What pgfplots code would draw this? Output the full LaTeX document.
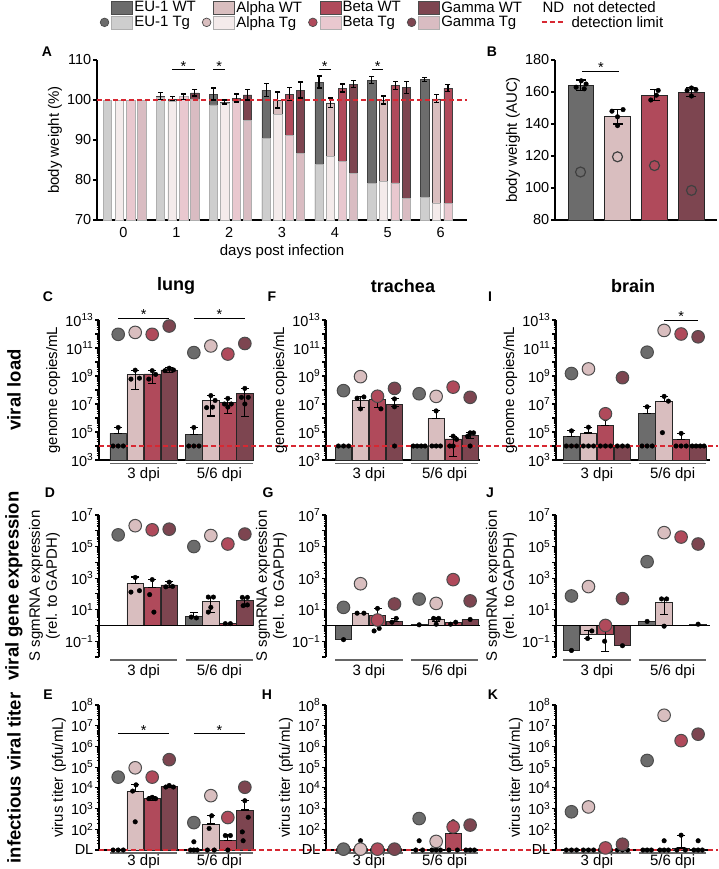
\documentclass[border=0pt]{standalone}
\usepackage{fontspec}
\setmainfont{Liberation Sans}
\usepackage{pgfplots}
\pgfplotsset{compat=1.18}

\definecolor{euwt}{RGB}{108,108,108}
\definecolor{eutg}{RGB}{206,206,206}
\definecolor{alwt}{RGB}{217,190,191}
\definecolor{altg}{RGB}{244,235,235}
\definecolor{bewt}{RGB}{176,74,91}
\definecolor{betg}{RGB}{233,200,207}
\definecolor{gawt}{RGB}{125,69,80}
\definecolor{gatg}{RGB}{217,188,194}
\definecolor{dlred}{RGB}{215,40,50}
\definecolor{tgedge}{RGB}{175,175,175}

\newcommand\fT{\fontsize{14.5}{16}\selectfont}
\newcommand\fA{\fontsize{15}{17}\selectfont}
\newcommand\fR{\fontsize{18.5}{20}\selectfont\bfseries}
\newcommand\fC{\fontsize{18}{20}\selectfont\bfseries}
\newcommand\fL{\fontsize{14}{16}\selectfont\bfseries}
\newcommand\dlsym{\textcolor{dlred}{\rule[0.3em]{5pt}{1.3pt}\hspace{3pt}\rule[0.3em]{5pt}{1.3pt}\hspace{3pt}\rule[0.3em]{5pt}{1.3pt}}}

\def\mtl{1e-9}
\foreach \e in {-2,...,13}{\foreach \m in {2,...,9}{\xdef\mtl{\mtl,\m e\e}}}

\pgfplotsset{
  pbase/.style={scale only axis, clip=false, axis x line*=bottom, axis y line*=left,
    axis line style={line width=1.3pt, black},
    tick style={black, line width=1.1pt},
    tick align=outside, major tick length=4pt, minor tick length=2.5pt,
    xtick style={draw=none},
    tick label style={font=\fT},
    yticklabel style={inner sep=1.5pt},
    label style={font=\fA},
    /pgf/number format/assume math mode=true},
  mybar/.style={ybar, bar width=0.97, bar shift=0pt, draw=black!85, line width=0.8pt, fill=#1},
  eb/.style={black, line width=1.1pt, mark=-, mark size=4pt, mark options={solid, line width=1.1pt}, unbounded coords=jump},
  dots/.style={only marks, mark=*, mark size=2.3pt, black},
  bigc/.style={only marks, mark=*, mark size=6.3pt, mark options={fill=#1, draw=black!70, line width=1pt}},
  dl/.style={dlred, line width=1.2pt, dash pattern=on 5pt off 3pt},
  grp/.style={black!60, line width=1.8pt},
  br/.style={black, line width=1pt},
  logpanel/.style={pbase, width=154pt, xtick={1.5,5.95}, xticklabels={3 dpi,5/6 dpi}, xticklabel style={font=\fA}, minor ytick/.expand once=\mtl},
  vlpanel/.style={logpanel, height=140pt, ymin=1e3, ymax=1e13,
     ytick={1e3,1e4,1e5,1e6,1e7,1e8,1e9,1e10,1e11,1e12,1e13},
     yticklabels={10\textsuperscript{3},,10\textsuperscript{5},,10\textsuperscript{7},,10\textsuperscript{9},,10\textsuperscript{11},,10\textsuperscript{13}},
     ylabel={genome copies/mL}},
  gepanel/.style={logpanel, height=142pt, ymin=1e-2, ymax=1e7, x axis line style={draw=none},
     ytick={1e-2,1e-1,1,1e1,1e2,1e3,1e4,1e5,1e6,1e7},
     yticklabels={,10\textsuperscript{−1},,10\textsuperscript{1},,10\textsuperscript{3},,10\textsuperscript{5},,10\textsuperscript{7}},
     ylabel={S sgmRNA expression\\(rel. to GAPDH)}, ylabel style={align=center}},
  vtpanel/.style={logpanel, height=145pt, ymin=1e1, ymax=1e8, xticklabel style={yshift=2.5pt},
     ytick={1e1,1e2,1e3,1e4,1e5,1e6,1e7,1e8},
     yticklabels={DL,10\textsuperscript{2},10\textsuperscript{3},10\textsuperscript{4},10\textsuperscript{5},10\textsuperscript{6},10\textsuperscript{7},10\textsuperscript{8}},
     ylabel={virus titer (pfu/mL)}},
}

\begin{document}
\begin{tikzpicture}
\path[use as bounding box] (0,0) rectangle (718pt,-869pt);

% ---------------- Panel A ----------------
\begin{axis}[pbase, at={(97pt,-220pt)}, anchor=south west, width=370pt, height=160pt,
  xmin=-0.5, xmax=6.5, ymin=70, ymax=110, clip=true,
  xtick={0,1,2,3,4,5,6}, ytick={70,80,90,100,110},
  xlabel={days post infection}, ylabel={body weight (\%)},
  legend columns=5, legend cell align=left,
  legend style={at={(0.005,1.375)}, anchor=north west, draw=none, fill=none, font=\fA,
    inner sep=0pt, row sep=0pt, nodes={inner sep=1.2pt},
    /tikz/every even column/.append style={column sep=4pt}},
]
\addlegendimage{legend image code/.code={\path[draw=none, fill=none] (-12pt,-7pt) rectangle (22pt,7pt); \draw[draw=black!70, fill=euwt, line width=0.6pt] (0.5pt,-6.5pt) rectangle (21.5pt,6.5pt);}}
\addlegendentry{EU-1 WT}
\addlegendimage{legend image code/.code={\path[draw=none, fill=none] (-12pt,-7pt) rectangle (22pt,7pt); \draw[draw=black!70, fill=alwt, line width=0.6pt] (0.5pt,-6.5pt) rectangle (21.5pt,6.5pt);}}
\addlegendentry{Alpha WT}
\addlegendimage{legend image code/.code={\path[draw=none, fill=none] (-12pt,-7pt) rectangle (22pt,7pt); \draw[draw=black!70, fill=bewt, line width=0.6pt] (0.5pt,-6.5pt) rectangle (21.5pt,6.5pt);}}
\addlegendentry{Beta WT}
\addlegendimage{legend image code/.code={\path[draw=none, fill=none] (-12pt,-7pt) rectangle (22pt,7pt); \draw[draw=black!70, fill=gawt, line width=0.6pt] (0.5pt,-6.5pt) rectangle (21.5pt,6.5pt);}}
\addlegendentry{Gamma WT}
\addlegendimage{legend image code/.code={}}
\addlegendentry{\hspace*{14pt}ND\hspace{9pt}not detected}
\addlegendimage{legend image code/.code={\path[draw=none, fill=none] (-12pt,-7pt) rectangle (22pt,7pt); \draw[draw=black!70, fill=euwt, line width=0.7pt] (-6.5pt,0pt) circle (4.3pt); \draw[draw=tgedge, fill=eutg, line width=0.6pt] (0.5pt,-6.5pt) rectangle (21.5pt,6.5pt);}}
\addlegendentry{EU-1 Tg}
\addlegendimage{legend image code/.code={\path[draw=none, fill=none] (-12pt,-7pt) rectangle (22pt,7pt); \draw[draw=black!70, fill=alwt, line width=0.7pt] (-6.5pt,0pt) circle (4.3pt); \draw[draw=tgedge, fill=altg, line width=0.6pt] (0.5pt,-6.5pt) rectangle (21.5pt,6.5pt);}}
\addlegendentry{Alpha Tg}
\addlegendimage{legend image code/.code={\path[draw=none, fill=none] (-12pt,-7pt) rectangle (22pt,7pt); \draw[draw=black!70, fill=bewt, line width=0.7pt] (-6.5pt,0pt) circle (4.3pt); \draw[draw=tgedge, fill=betg, line width=0.6pt] (0.5pt,-6.5pt) rectangle (21.5pt,6.5pt);}}
\addlegendentry{Beta Tg}
\addlegendimage{legend image code/.code={\path[draw=none, fill=none] (-12pt,-7pt) rectangle (22pt,7pt); \draw[draw=black!70, fill=gawt, line width=0.7pt] (-6.5pt,0pt) circle (4.3pt); \draw[draw=tgedge, fill=gatg, line width=0.6pt] (0.5pt,-6.5pt) rectangle (21.5pt,6.5pt);}}
\addlegendentry{Gamma Tg}
\addlegendimage{legend image code/.code={}}
\addlegendentry{\hspace*{13pt}\dlsym\hspace{9pt}detection limit}

% WT bars
\addplot[forget plot, ybar, bar width=0.157, bar shift=0pt, fill=euwt, draw=black!75, line width=0.6pt] coordinates {(-0.30,100) (0.70,101.0) (1.70,101.5) (2.70,102.5) (3.70,104.5) (4.70,105.0) (5.70,105.2)};
\addplot[forget plot, ybar, bar width=0.157, bar shift=0pt, fill=alwt, draw=black!75, line width=0.6pt] coordinates {(-0.08,100) (0.92,100.3) (1.92,99.5) (2.92,100.0) (3.92,99.3) (4.92,100.0) (5.92,100.3)};
\addplot[forget plot, ybar, bar width=0.157, bar shift=0pt, fill=bewt, draw=black!75, line width=0.6pt] coordinates {(0.14,100) (1.14,100.8) (2.14,100.5) (3.14,101.5) (4.14,103.0) (5.14,103.6) (6.14,103.0)};
\addplot[forget plot, ybar, bar width=0.157, bar shift=0pt, fill=gawt, draw=black!75, line width=0.6pt] coordinates {(0.35,100) (1.35,101.8) (2.35,101.3) (3.35,102.5) (4.35,104.0) (5.35,103.2)};
% Tg bars
\addplot[forget plot, ybar, bar width=0.157, bar shift=0pt, fill=eutg, draw=tgedge, line width=0.6pt] coordinates {(-0.30,100) (0.70,100.7) (1.70,98.8) (2.70,90.5) (3.70,83.9) (4.70,79.2) (5.70,75.7)};
\addplot[forget plot, ybar, bar width=0.157, bar shift=0pt, fill=altg, draw=tgedge, line width=0.6pt] coordinates {(-0.08,100) (0.92,99.6) (1.92,99.3) (2.92,96.4) (3.92,86.0) (4.92,79.6) (5.92,74.3)};
\addplot[forget plot, ybar, bar width=0.157, bar shift=0pt, fill=betg, draw=tgedge, line width=0.6pt] coordinates {(0.14,100) (1.14,101.0) (2.14,99.8) (3.14,91.2) (4.14,84.6) (5.14,79.3) (6.14,74.2)};
\addplot[forget plot, ybar, bar width=0.157, bar shift=0pt, fill=gatg, draw=tgedge, line width=0.6pt] coordinates {(0.35,100) (1.35,100.3) (2.35,94.9) (3.35,86.7) (4.35,81.7) (5.35,75.4)};
% error bars
\addplot[forget plot, eb, mark size=2.5pt] coordinates {
(0.70,100.2)(0.70,101.8)(0.70,nan) (1.70,100)(1.70,103)(1.70,nan) (2.70,100.9)(2.70,104.1)(2.70,nan)
(3.70,103)(3.70,106)(3.70,nan) (4.70,104.1)(4.70,105.9)(4.70,nan) (5.70,104.7)(5.70,105.7)(5.70,nan)
(0.92,99.8)(0.92,100.8)(0.92,nan) (1.92,99)(1.92,100)(1.92,nan) (2.92,98)(2.92,102)(2.92,nan)
(3.92,98.1)(3.92,100.5)(3.92,nan) (4.92,99)(4.92,101)(4.92,nan) (5.92,99.3)(5.92,101.3)(5.92,nan)
(1.14,100.1)(1.14,101.5)(1.14,nan) (2.14,99.5)(2.14,101.5)(2.14,nan) (3.14,99.8)(3.14,103.2)(3.14,nan)
(4.14,102)(4.14,104)(4.14,nan) (5.14,102.6)(5.14,104.6)(5.14,nan) (6.14,102.1)(6.14,103.9)(6.14,nan)
(1.35,101)(1.35,102.6)(1.35,nan) (2.35,100)(2.35,102.6)(2.35,nan) (3.35,100.5)(3.35,104.5)(3.35,nan)
(4.35,103.2)(4.35,104.8)(4.35,nan) (5.35,101.7)(5.35,104.7)};
\addplot[forget plot, dl] coordinates {(-0.5,100) (6.5,100)};
\addplot[forget plot, br] coordinates {(0.92,107.7) (1.35,107.7)};
\addplot[forget plot, br] coordinates {(1.70,107.7) (1.92,107.7)};
\addplot[forget plot, br] coordinates {(3.70,107.7) (3.92,107.7)};
\addplot[forget plot, br] coordinates {(4.70,107.7) (4.92,107.7)};
\node[anchor=base, inner sep=0pt, font=\fT] at (axis cs:1.135,107.2) {*};
\node[anchor=base, inner sep=0pt, font=\fT] at (axis cs:1.81,107.2) {*};
\node[anchor=base, inner sep=0pt, font=\fT] at (axis cs:3.81,107.2) {*};
\node[anchor=base, inner sep=0pt, font=\fT] at (axis cs:4.81,107.2) {*};
\end{axis}

% ---------------- Panel B ----------------
\begin{axis}[pbase, at={(555pt,-220pt)}, anchor=south west, width=162pt, height=160pt,
  xmin=-0.69, xmax=3.69, ymin=80, ymax=180, clip=true, xtick=\empty,
  ytick={80,100,120,140,160,180},
  ylabel={body weight (AUC)}]
\addplot[ybar, bar width=0.68, bar shift=0pt, fill=euwt, draw=black!85, line width=0.9pt] coordinates {(0,164)};
\addplot[ybar, bar width=0.68, bar shift=0pt, fill=alwt, draw=black!85, line width=0.9pt] coordinates {(1,145)};
\addplot[ybar, bar width=0.68, bar shift=0pt, fill=bewt, draw=black!85, line width=0.9pt] coordinates {(2,158)};
\addplot[ybar, bar width=0.68, bar shift=0pt, fill=gawt, draw=black!85, line width=0.9pt] coordinates {(3,160)};
\addplot[eb, mark size=5pt] coordinates {(0,161)(0,167.5)(0,nan) (1,140)(1,149)(1,nan) (2,154.5)(2,161.5)(2,nan) (3,157)(3,163)};
\addplot[dots] coordinates {(-0.12,163)(0.1,162)(0.02,167)(0.15,165) (0.85,148)(1.15,149)(1.0,144.5)(1.0,139) (2.1,161)(1.9,155)(2.05,158) (3,162.5)(2.88,161)(3.12,161.5)(3,157.5)};
\addplot[only marks, mark=o, mark size=5pt, black!75, line width=1.2pt] coordinates {(0,110) (1,119.5) (2,114) (3,98.5)};
\addplot[br] coordinates {(0.05,172.5) (1.05,172.5)};
\node[anchor=base, inner sep=0pt, font=\fT] at (axis cs:0.55,172) {*};
\end{axis}

% ---------------- Panel C (lung, viral load) ----------------
\begin{axis}[vlpanel, ymode=log, log origin y=infty, at={(99pt,-460pt)}, anchor=south west, xmin=-1.13, xmax=7.93]
\addplot[mybar=euwt] coordinates {(0,8e4) (4.45,6.5e4)};
\addplot[mybar=alwt] coordinates {(1,1.2e9) (5.45,1.7e7)};
\addplot[mybar=bewt] coordinates {(2,1.4e9) (6.45,1.3e7)};
\addplot[mybar=gawt] coordinates {(3,2.7e9) (7.45,5.8e7)};
\addplot[dl] coordinates {(-1.13,1e4) (12.22,1e4)};
\addplot[eb] coordinates {(0,8e4)(0,2.1e5)(0,nan) (1,1.1e8)(1,2.5e9)(1,nan) (2,3e8)(2,2.5e9)(2,nan) (3,1.8e9)(3,3.8e9)(3,nan)
 (4.45,6.5e4)(4.45,2.1e5)(4.45,nan) (5.45,1.4e6)(5.45,4e7)(5.45,nan) (6.45,2.1e6)(6.45,2.5e7)(6.45,nan) (7.45,1.3e6)(7.45,1.3e8)};
\addplot[dots] coordinates {(0,2.1e5)(-0.3,1e4)(0,1e4)(0.3,1e4)
 (1,2.6e9)(0.75,6e8)(1.25,7e8) (2,2.4e9)(1.8,6e8)(2.2,1.3e9) (3,3.6e9)(2.75,2.4e9)(3.25,2.7e9)
 (4.45,2.1e5)(4.15,1e4)(4.45,1e4)(4.75,1e4)
 (5.45,4e7)(5.7,1.8e7)(5.2,5.5e6)(5.55,6e6) (6.45,2.5e7)(6.25,1e7)(6.65,1e7)(6.45,6e6)
 (7.45,1.3e8)(7.25,3e7)(7.65,3e7)(7.45,1e7)};
\addplot[bigc=euwt] coordinates {(0,9.5e11) (4.45,4.7e10)};
\addplot[bigc=alwt] coordinates {(1,1.3e12) (5.45,1.4e11)};
\addplot[bigc=bewt] coordinates {(2,9.5e11) (6.45,3.7e10)};
\addplot[bigc=gawt] coordinates {(3,3.7e12) (7.45,2.1e11)};
\addplot[grp] coordinates {(-0.48,5.6e2) (3.48,5.6e2)};
\addplot[grp] coordinates {(3.97,5.6e2) (7.93,5.6e2)};
\addplot[br] coordinates {(0,1.25e13) (3,1.25e13)};
\addplot[br] coordinates {(4.45,1.25e13) (7.45,1.25e13)};
\node[anchor=base, inner sep=0pt, font=\fT] at (axis cs:1.5,1.05e13) {*};
\node[anchor=base, inner sep=0pt, font=\fT] at (axis cs:5.95,1.05e13) {*};
\end{axis}

% ---------------- Panel F (trachea, viral load) ----------------
\begin{axis}[vlpanel, ymode=log, log origin y=infty, at={(326pt,-460pt)}, anchor=south west, xmin=-1.03, xmax=8.03]
\addplot[mybar=euwt] coordinates {(0,1e4) (4.45,1e4)};
\addplot[mybar=alwt] coordinates {(1,1.8e7) (5.45,9.3e5)};
\addplot[mybar=bewt] coordinates {(2,2e7) (6.45,3.2e4)};
\addplot[mybar=gawt] coordinates {(3,9.3e6) (7.45,5.9e4)};
\addplot[dl] coordinates {(-1.03,1e4) (12.5,1e4)};
\addplot[eb] coordinates {(1,5.6e6)(1,3.2e7)(1,nan) (2,5.4e6)(2,3.6e7)(2,nan) (3,6.3e6)(3,2.3e7)(3,nan)
 (5.45,9.3e5)(5.45,3.2e6)(5.45,nan) (6.45,1.7e3)(6.45,5e4)(6.45,nan) (7.45,3.4e4)(7.45,8.7e4)};
\addplot[dots] coordinates {(-0.3,1e4)(0,1e4)(0.3,1e4)
 (1.2,3.2e7)(1,4.5e6)(0.8,2.6e7) (2,3.2e7)(1.8,2.4e7)(2.2,4.5e6) (3,2.3e7)(3,6.3e6)(3,1e4)
 (4.1,1e4)(4.33,1e4)(4.57,1e4)(4.8,1e4)
 (5.45,3.2e6)(5.2,1e4)(5.45,1e4)(5.7,1e4) (6.45,5e4)(6.65,3e4)(6.25,1e4)(6.45,1e4)
 (7.45,8.7e4)(7.65,8.7e4)(7.3,5e4)(7.45,1e4)};
\addplot[bigc=euwt] coordinates {(0,9e7) (4.45,5.4e7)};
\addplot[bigc=alwt] coordinates {(1,9e8) (5.45,3.5e7)};
\addplot[bigc=bewt] coordinates {(2,3.6e7) (6.45,1.6e8)};
\addplot[bigc=gawt] coordinates {(3,1.3e8) (7.45,3e7)};
\addplot[grp] coordinates {(-0.48,5.6e2) (3.48,5.6e2)};
\addplot[grp] coordinates {(3.97,5.6e2) (7.93,5.6e2)};
\end{axis}

% ---------------- Panel I (brain, viral load) ----------------
\begin{axis}[vlpanel, ymode=log, log origin y=infty, at={(556pt,-460pt)}, anchor=south west, xmin=-0.91, xmax=8.15]
\addplot[mybar=euwt] coordinates {(0,4.9e4) (4.45,2e6)};
\addplot[mybar=alwt] coordinates {(1,8.5e4) (5.45,1.45e7)};
\addplot[mybar=bewt] coordinates {(2,3.1e5) (6.45,2.9e4)};
\addplot[mybar=gawt] coordinates {(3,1e4) (7.45,1e4)};
\addplot[dl] coordinates {(-0.91,1e4) (8.62,1e4)};
\addplot[eb] coordinates {(0,4.9e4)(0,1.2e5)(0,nan) (1,8.5e4)(1,2.2e5)(1,nan) (2,3.1e5)(2,8.7e5)(2,nan)
 (4.45,2e6)(4.45,6.3e6)(4.45,nan) (5.45,1.45e7)(5.45,3.5e7)(5.45,nan) (6.45,2.9e4)(6.45,8e4)};
\addplot[dots] coordinates {(0,1.2e5)(-0.3,1e4)(0,1e4)(0.3,1e4) (1,2.2e5)(0.7,1e4)(1,1e4)(1.3,1e4)
 (2,8.7e5)(1.7,1e4)(2,1e4)(2.3,1e4) (2.7,1e4)(3,1e4)(3.3,1e4)
 (4.45,6.3e6)(4.15,1e4)(4.45,1e4)(4.75,1e4) (5.45,3.5e7)(5.7,1.6e7)(5.35,9e4)
 (6.45,8e4)(6.15,1e4)(6.45,1e4)(6.75,1e4) (7.1,1e4)(7.33,1e4)(7.57,1e4)(7.8,1e4)};
\addplot[bigc=euwt] coordinates {(0,1.5e9) (4.45,5e10)};
\addplot[bigc=alwt] coordinates {(1,3.2e9) (5.45,1.8e12)};
\addplot[bigc=bewt] coordinates {(2,2e6) (6.45,1e12)};
\addplot[bigc=gawt] coordinates {(3,7.6e8) (7.45,6.3e11)};
\addplot[grp] coordinates {(-0.48,5.6e2) (3.48,5.6e2)};
\addplot[grp] coordinates {(3.97,5.6e2) (7.93,5.6e2)};
\addplot[br] coordinates {(5.45,9e12) (7.45,9e12)};
\node[anchor=base, inner sep=0pt, font=\fT] at (axis cs:6.45,7.5e12) {*};
\end{axis}

% ---------------- Panel D (lung, gene expression) ----------------
\begin{axis}[gepanel, ymode=log, at={(99pt,-657pt)}, anchor=south west, xmin=-1.13, xmax=7.93]
\addplot[mybar=alwt] coordinates {(1,480) (5.45,35)};
\addplot[mybar=bewt] coordinates {(2,270) (6.45,1.35)};
\addplot[mybar=gawt] coordinates {(3,370) (7.45,38)};
\addplot[mybar=euwt] coordinates {(4.45,3.9)};
\addplot[black, line width=1.3pt] coordinates {(-1.13,1) (7.93,1)};
\addplot[eb] coordinates {(1,480)(1,1170)(1,nan) (2,270)(2,800)(2,nan) (3,250)(3,630)(3,nan)
 (4.45,3.9)(4.45,6.3)(4.45,nan) (5.45,6.3)(5.45,63)(5.45,nan) (7.45,17)(7.45,62)};
\addplot[dots] coordinates {(1,1100)(0.75,130)(1.25,160) (2,800)(1.85,90)(2.1,7) (3,550)(2.8,280)(3.2,300)
 (4.3,3.4)(4.6,3.0) (5.3,63)(5.6,63)(5.45,14)(5.3,7) (6.3,1.3)(6.6,1.3) (7.3,60)(7.6,60)(7.35,18)(7.6,20)};
\addplot[bigc=euwt] coordinates {(0,5.5e5) (4.45,1e5)};
\addplot[bigc=alwt] coordinates {(1,2.1e6) (5.45,5e5)};
\addplot[bigc=bewt] coordinates {(2,1.15e6) (6.45,1.45e5)};
\addplot[bigc=gawt] coordinates {(3,1.26e6) (7.45,6.2e5)};
\addplot[grp] coordinates {(-0.48,6.3e-3) (3.48,6.3e-3)};
\addplot[grp] coordinates {(3.97,6.3e-3) (7.93,6.3e-3)};
\end{axis}

% ---------------- Panel G (trachea, gene expression) ----------------
\begin{axis}[gepanel, ymode=log, at={(326pt,-657pt)}, anchor=south west, xmin=-1.03, xmax=8.03]
\addplot[mybar=euwt] coordinates {(0,0.126) (4.45,1.15)};
\addplot[mybar=alwt] coordinates {(1,6) (5.45,2.4)};
\addplot[mybar=bewt] coordinates {(2,4.4) (6.45,1.5)};
\addplot[mybar=gawt] coordinates {(3,1.9) (7.45,2.4)};
\addplot[black, line width=1.3pt] coordinates {(-1.03,1) (8.03,1)};
\addplot[eb] coordinates {(2,4.4)(2,12.6)(2,nan) (3,1.9)(3,2.8)(3,nan) (5.45,1.8)(5.45,3)};
\addplot[dots] coordinates {(0,0.126) (0.8,6)(1.2,6) (2,12)(1.8,0.45)(2.1,0.65) (3.1,2.8)(2.85,1.6)
 (4.45,1.1) (5.3,2.8)(5.6,2.8)(5.45,1.2) (6.3,1.2)(6.6,1.6) (7.45,2.4)};
\addplot[bigc=euwt] coordinates {(0,14) (4.45,47)};
\addplot[bigc=alwt] coordinates {(1,440) (5.45,25)};
\addplot[bigc=bewt] coordinates {(2,2.2) (6.45,800)};
\addplot[bigc=gawt] coordinates {(3,23) (7.45,36)};
\addplot[grp] coordinates {(-0.48,6.3e-3) (3.48,6.3e-3)};
\addplot[grp] coordinates {(3.97,6.3e-3) (7.93,6.3e-3)};
\end{axis}

% ---------------- Panel J (brain, gene expression) ----------------
\begin{axis}[gepanel, ymode=log, at={(556pt,-657pt)}, anchor=south west, xmin=-0.91, xmax=8.15]
\addplot[mybar=euwt] coordinates {(0,0.026) (4.45,1.8)};
\addplot[mybar=alwt] coordinates {(1,0.28) (5.45,28)};
\addplot[mybar=bewt] coordinates {(2,0.28)};
\addplot[mybar=gawt] coordinates {(3,0.052) (7.45,1.2)};
\addplot[black, line width=1.3pt] coordinates {(-0.91,1) (8.15,1)};
\addplot[eb] coordinates {(1,0.14)(1,0.45)(1,nan) (2,0.023)(2,0.68)(2,nan) (5.45,4.7)(5.45,48)};
\addplot[dots] coordinates {(0,0.026) (1.2,0.45)(0.95,0.15) (2,0.6)(1.95,0.1) (3,0.052)
 (4.45,1.8) (5.3,48)(5.6,48)(5.45,0.9) (7.45,1.2)};
\addplot[bigc=euwt] coordinates {(0,74) (4.45,1.1e4)};
\addplot[bigc=alwt] coordinates {(1,290) (5.45,7.6e5)};
\addplot[bigc=bewt] coordinates {(2,1.0) (6.45,4e5)};
\addplot[bigc=gawt] coordinates {(3,50) (7.45,1.45e5)};
\addplot[grp] coordinates {(-0.48,6.3e-3) (3.48,6.3e-3)};
\addplot[grp] coordinates {(3.97,6.3e-3) (7.93,6.3e-3)};
\end{axis}

% ---------------- Panel E (lung, titer) ----------------
\begin{axis}[vtpanel, ymode=log, log origin y=infty, at={(99pt,-850pt)}, anchor=south west, xmin=-1.13, xmax=7.93]
\addplot[mybar=alwt] coordinates {(1,6.6e3) (5.45,180)};
\addplot[mybar=bewt] coordinates {(2,3.2e3) (6.45,30)};
\addplot[mybar=gawt] coordinates {(3,1.15e4) (7.45,850)};
\addplot[dl] coordinates {(-1.13,10) (12.22,10)};
\addplot[eb] coordinates {(1,6.6e3)(1,1.4e4)(1,nan) (2,2.4e3)(2,3.8e3)(2,nan) (3,1e4)(3,1.3e4)(3,nan)
 (5.45,180)(5.45,450)(5.45,nan) (6.45,30)(6.45,54)(6.45,nan) (7.45,850)(7.45,2.4e3)};
\addplot[dots] coordinates {(-0.3,10)(0,10)(0.3,10) (1.05,1.4e4)(0.85,7e3)(1,230) (2,3.5e3)(1.8,3e3)(2.2,3e3)
 (3,1.3e4)(2.8,1.1e4)(3.25,1.1e4) (4.45,25)(4.25,10)(4.45,10)(4.65,10)
 (5.5,450)(5.35,110)(5.25,10)(5.65,10) (6.3,50)(6.6,50)(6.45,10)
 (7.45,2.4e3)(7.65,380)(7.3,75)(7.35,28)};
\addplot[bigc=euwt] coordinates {(0,3.3e4) (4.45,210)};
\addplot[bigc=alwt] coordinates {(1,9.3e4) (5.45,4.2e3)};
\addplot[bigc=bewt] coordinates {(2,3.3e4) (6.45,370)};
\addplot[bigc=gawt] coordinates {(3,2.3e5) (7.45,1.07e4)};
\addplot[grp] coordinates {(-0.48,7) (3.48,7)};
\addplot[grp] coordinates {(3.97,7) (7.93,7)};
\addplot[br] coordinates {(0,4.2e6) (3,4.2e6)};
\addplot[br] coordinates {(4.45,4.2e6) (7.45,4.2e6)};
\node[anchor=base, inner sep=0pt, font=\fT] at (axis cs:1.5,3.4e6) {*};
\node[anchor=base, inner sep=0pt, font=\fT] at (axis cs:5.95,3.4e6) {*};
\end{axis}

% ---------------- Panel H (trachea, titer) ----------------
\begin{axis}[vtpanel, ymode=log, log origin y=infty, at={(326pt,-850pt)}, anchor=south west, xmin=-1.03, xmax=8.03]
\addplot[mybar=bewt] coordinates {(6.45,60)};
\addplot[dl] coordinates {(-1.03,10) (12.5,10)};
\addplot[eb] coordinates {(6.45,60)(6.45,230)};
\addplot[dots] coordinates {(-0.3,10)(0,10)(0.3,10) (1,28)(0.7,10)(1.3,10) (1.7,10)(2,10)(2.3,10) (2.7,10)(3,10)(3.3,10)
 (4.45,28)(4.25,10)(4.65,10) (5.2,10)(5.45,10)(5.7,10) (6.45,230)(6.45,150)(6.2,10)(6.7,10) (7.2,10)(7.45,10)(7.7,10)};
\addplot[bigc=euwt] coordinates {(0,11) (4.45,330)};
\addplot[bigc=alwt] coordinates {(1,11) (5.45,26)};
\addplot[bigc=bewt] coordinates {(2,11) (6.45,130)};
\addplot[bigc=gawt] coordinates {(3,11) (7.45,160)};
\addplot[grp] coordinates {(-0.48,7) (3.48,7)};
\addplot[grp] coordinates {(3.97,7) (7.93,7)};
\end{axis}

% ---------------- Panel K (brain, titer) ----------------
\begin{axis}[vtpanel, ymode=log, log origin y=infty, at={(556pt,-850pt)}, anchor=south west, xmin=-0.91, xmax=8.15]
\addplot[mybar=bewt] coordinates {(6.45,12.5)};
\addplot[dl] coordinates {(-0.91,10) (8.62,10)};
\addplot[eb] coordinates {(6.45,12.5)(6.45,52)};
\addplot[dots] coordinates {(-0.3,10)(0,10)(0.3,10) (0.7,10)(1,10)(1.3,10) (1.7,10)(2,10)(2.3,10) (3,28)(2.7,10)(3,10)(3.3,10)
 (4.2,10)(4.45,10)(4.7,10) (5.45,28)(5.2,10)(5.45,10)(5.7,10) (6.45,52)(6.2,10)(6.7,10) (7.45,28)(7.2,10)(7.45,10)(7.7,10)};
\addplot[bigc=euwt] coordinates {(0,700) (4.45,2.1e5)};
\addplot[bigc=alwt] coordinates {(1,1.2e3) (5.45,3.2e7)};
\addplot[bigc=bewt] coordinates {(2,12.6) (6.45,1.9e6)};
\addplot[bigc=gawt] coordinates {(3,19) (7.45,3.9e6)};
\addplot[grp] coordinates {(-0.48,7) (3.48,7)};
\addplot[grp] coordinates {(3.97,7) (7.93,7)};
\end{axis}

% ---------------- labels ----------------
\node[font=\fL] at (47pt,-52pt) {A};
\node[font=\fL] at (492pt,-52pt) {B};
\node[font=\fL] at (48pt,-297pt) {C};
\node[font=\fL] at (272pt,-297pt) {F};
\node[font=\fL] at (490pt,-297pt) {I};
\node[font=\fL] at (50pt,-493pt) {D};
\node[font=\fL] at (268pt,-493pt) {G};
\node[font=\fL] at (490pt,-493pt) {J};
\node[font=\fL] at (48pt,-695pt) {E};
\node[font=\fL] at (267pt,-695pt) {H};
\node[font=\fL] at (493pt,-695pt) {K};
\node[font=\fC] at (176pt,-286pt) {lung};
\node[font=\fC] at (403pt,-286pt) {trachea};
\node[font=\fC] at (633pt,-286pt) {brain};
\node[font=\fR, rotate=90] at (14pt,-390pt) {viral load};
\node[font=\fR, rotate=90] at (14pt,-586pt) {viral gene expression};
\node[font=\fR, rotate=90] at (14pt,-778pt) {infectious viral titer};
\end{tikzpicture}
\end{document}
